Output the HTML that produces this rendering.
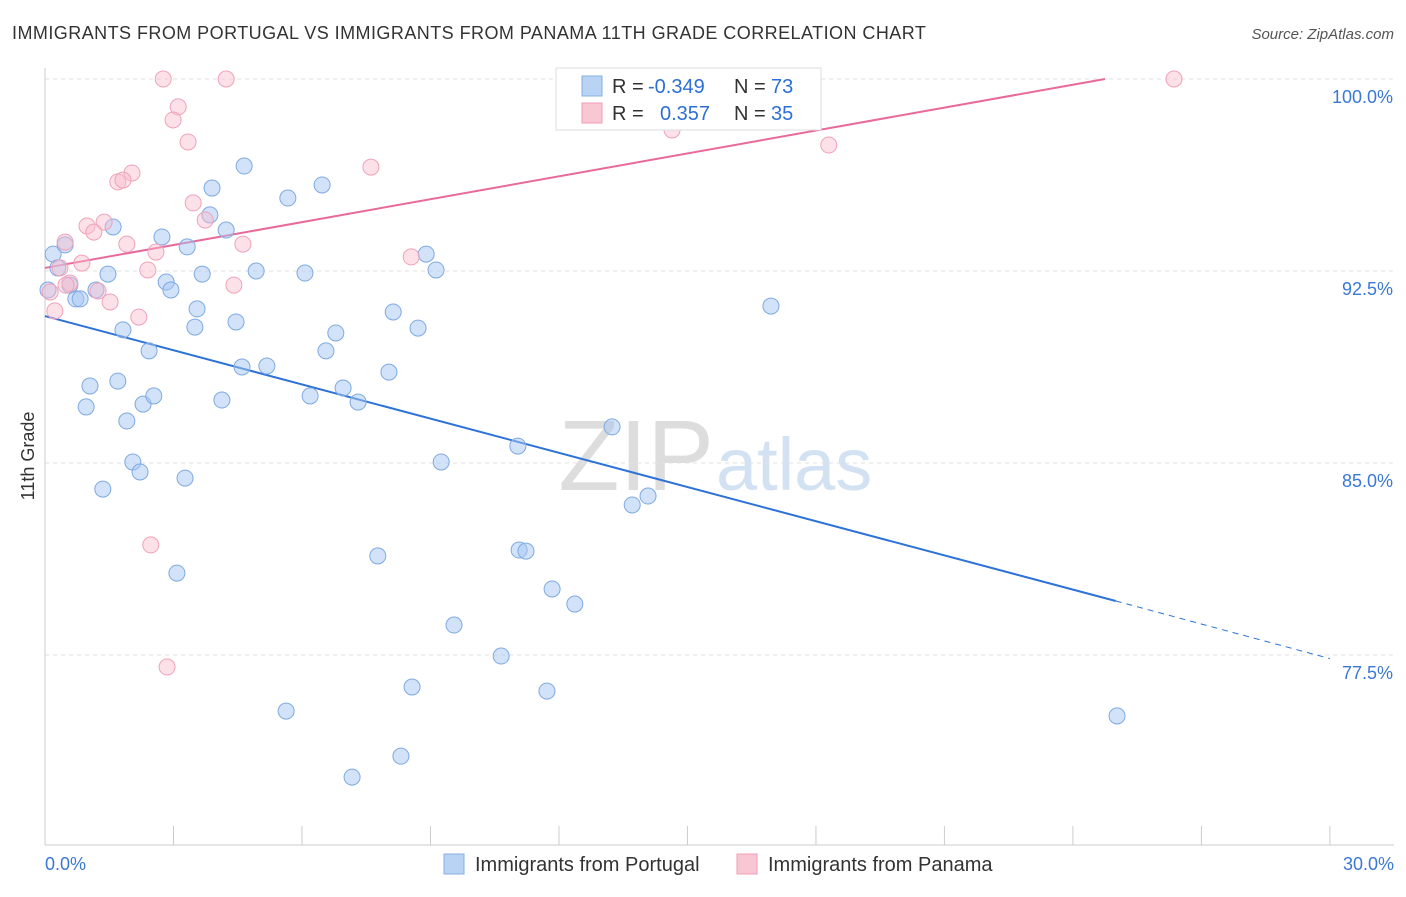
<!DOCTYPE html>
<html><head><meta charset="utf-8"><style>
body{margin:0;background:#fff;font-family:"Liberation Sans",sans-serif;}
svg text{font-family:"Liberation Sans",sans-serif;}
</style></head><body>
<svg id="chart" width="1406" height="892" xmlns="http://www.w3.org/2000/svg">
<text x="12" y="39" font-size="18" fill="#333" letter-spacing="0.45">IMMIGRANTS FROM PORTUGAL VS IMMIGRANTS FROM PANAMA 11TH GRADE CORRELATION CHART</text>
<text x="1394" y="39" font-size="15" fill="#555" text-anchor="end" font-style="italic">Source: ZipAtlas.com</text>
<text x="34" y="456" font-size="18" fill="#333" text-anchor="middle" transform="rotate(-90 34 456)">11th Grade</text>
<text x="714" y="490" font-size="100" fill="#ddd" text-anchor="end" font-family="Liberation Serif">ZIP</text>
<text x="716" y="490" font-size="74" fill="#d3e2f3">atlas</text>
<g id="grid"></g><g id="axes"></g><g id="lines"></g><g id="pts"></g>
<g>
<rect x="556" y="68" width="265" height="62" fill="#fff" stroke="#ddd"/>
<rect x="582" y="76" width="20" height="20" fill="#b8d3f3" stroke="#86b0e3"/>
<text x="612" y="93" font-size="20" fill="#333">R = </text><text x="648" y="93" font-size="20" fill="#2c6fd6">-0.349</text>
<text x="734" y="93" font-size="20" fill="#333">N = </text><text x="771" y="93" font-size="20" fill="#2c6fd6">73</text>
<rect x="582" y="103" width="20" height="20" fill="#f9c6d4" stroke="#ee9fb7"/>
<text x="612" y="120" font-size="20" fill="#333">R = </text><text x="660" y="120" font-size="20" fill="#2c6fd6">0.357</text>
<text x="734" y="120" font-size="20" fill="#333">N = </text><text x="771" y="120" font-size="20" fill="#2c6fd6">35</text>
</g>
<g><rect x="444" y="854" width="20" height="20" fill="#b8d3f3" stroke="#86b0e3"/><text x="475" y="871" font-size="20" fill="#333">Immigrants from Portugal</text></g>
<g><rect x="737" y="854" width="20" height="20" fill="#f9c6d4" stroke="#ee9fb7"/><text x="768" y="871" font-size="20" fill="#333">Immigrants from Panama</text></g>
</svg>
<script>
const yTicks=[100,92.5,85,77.5];
const xTickLabels=["0.0%","30.0%"];
const blueX=[0.19,0.47,0.30,0.58,0.72,0.82,1.19,1.47,1.59,1.82,1.05,0.96,1.70,1.91,2.05,2.22,1.35,2.29,2.54,2.43,2.73,2.83,2.94,3.32,3.55,3.50,3.67,3.90,3.85,4.23,4.65,4.46,4.60,4.13,3.27,3.08,4.93,5.18,5.67,6.07,6.47,6.79,6.56,6.19,6.96,7.31,8.13,8.03,8.71,8.90,9.13,9.25,7.77,7.17,8.31,8.57,5.63,9.55,10.65,11.04,11.07,11.23,11.84,12.37,11.72,13.24,13.71,14.08,16.95,25.03,13.85,16.69,0.07];
const blueY=[93.16,93.52,92.62,91.95,91.41,91.41,91.76,92.38,94.22,90.20,88.01,87.19,88.20,86.64,85.04,84.65,83.98,87.30,87.62,89.38,93.83,92.07,91.76,93.44,91.02,90.31,92.38,95.74,94.69,94.10,96.60,90.51,88.75,87.46,84.41,80.70,92.50,88.79,95.35,92.42,95.86,90.08,89.38,87.62,87.93,87.38,90.90,88.55,90.27,93.16,92.54,85.04,81.37,72.73,73.55,76.25,75.31,78.67,77.46,85.66,81.60,81.56,80.08,79.49,76.09,86.41,83.36,83.71,91.13,75.12,100,100,91.76];
const pinkX=[2.76,4.23,3.11,2.99,3.34,2.03,1.70,1.82,3.46,3.74,1.38,0.98,1.14,0.47,1.91,2.59,4.62,0.86,2.40,0.35,4.41,0.58,1.24,1.52,0.23,2.19,2.47,2.85,7.61,8.55,14.64,18.30,26.36,0.12,0.49];
const pinkY=[100,100,98.91,98.40,97.54,96.33,95.98,96.05,95.16,94.49,94.41,94.26,94.02,93.63,93.55,93.24,93.55,92.81,92.54,92.62,91.95,92.03,91.72,91.29,90.94,90.70,81.80,77.03,96.56,93.05,98.01,97.42,100,91.68,91.95];
const blueTrend=[[0,90.74],[25,79.61],[30,77.36]];
const pinkTrend=[[0,92.62],[24.75,100]];
const NS="http://www.w3.org/2000/svg";
const X=v=>45+v*42.83, Y=v=>79+(100-v)*25.6;
function mk(tag,attrs,parent){const e=document.createElementNS(NS,tag);for(const k in attrs)e.setAttribute(k,attrs[k]);document.getElementById(parent).appendChild(e);return e;}
yTicks.forEach(t=>{
 const l=mk('line',{x1:45,x2:1394,y1:Y(t),y2:Y(t),stroke:'#e2e2e2','stroke-dasharray':'4 4'},'grid');
 
 
 const tx=mk('text',{x:1393,y:Y(t)+24,'font-size':18,fill:'#3a78d4','text-anchor':'end'},'grid');
 tx.textContent=t.toFixed(1)+'%';
 
 
});
mk('line',{x1:45,x2:45,y1:68,y2:845,stroke:'#ccc'},'axes');
mk('line',{x1:45,x2:1394,y1:845,y2:845,stroke:'#ccc'},'axes');
for(let i=0;i<=10;i++){const tk=mk('line',{x1:X(i*3),x2:X(i*3),y1:826,y2:845,stroke:'#ccc'},'axes');
 
 }
const t0=mk('text',{x:45,y:870,'font-size':18,fill:'#3a78d4'},'axes');t0.textContent=xTickLabels[0];


const t1=mk('text',{x:1394,y:870,'font-size':18,fill:'#3a78d4','text-anchor':'end'},'axes');t1.textContent=xTickLabels[1];


blueX.forEach((v,i)=>{const c=mk('circle',{cx:X(v),cy:Y(blueY[i]),r:8,fill:'rgba(165,198,242,0.5)',stroke:'#7eaae2','stroke-width':1},'pts');
 
 });
pinkX.forEach((v,i)=>{const c=mk('circle',{cx:X(v),cy:Y(pinkY[i]),r:8,fill:'rgba(248,188,206,0.45)',stroke:'#f0a2ba','stroke-width':1},'pts');
 
 });
const bl=mk('line',{x1:X(blueTrend[0][0]),y1:Y(blueTrend[0][1]),x2:X(blueTrend[1][0]),y2:Y(blueTrend[1][1]),stroke:'#2c72d8','stroke-width':2},'lines');


const bd=mk('line',{x1:X(blueTrend[1][0]),y1:Y(blueTrend[1][1]),x2:X(blueTrend[2][0]),y2:Y(blueTrend[2][1]),stroke:'#2c72d8','stroke-width':1,'stroke-dasharray':'6 5'},'lines');


const pl=mk('line',{x1:X(pinkTrend[0][0]),y1:Y(pinkTrend[0][1]),x2:X(pinkTrend[1][0]),y2:Y(pinkTrend[1][1]),stroke:'#e8699a','stroke-width':2},'lines');


</script>
</body></html>
